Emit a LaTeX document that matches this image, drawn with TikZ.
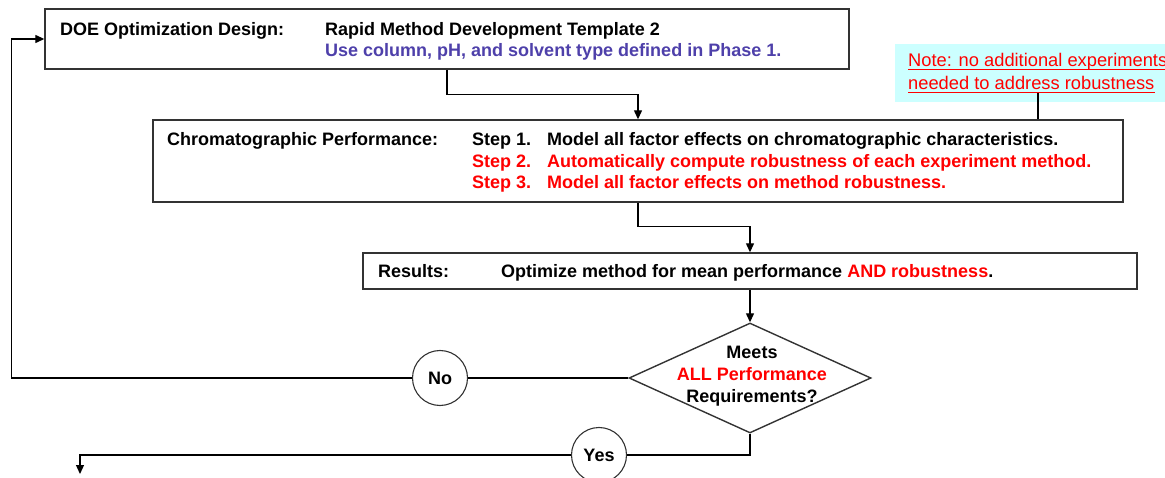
\documentclass[tikz,border=0pt]{standalone}
\usepackage{fontspec}
\setmainfont{Liberation Sans}
\usetikzlibrary{calc, positioning, shapes.geometric, arrows.meta}
\definecolor{doeblue}{RGB}{78,64,170}
\definecolor{notecyan}{RGB}{204,255,255}
\tikzset{
  font=\fontsize{18}{22}\selectfont\bfseries,
  % Set arrowhead
  >={Triangle[length=9pt, width=8pt]},
  % Process box
  box/.style={draw=black!80, line width=1.4pt, shape=rectangle, inner sep=0pt},
  % Decision diamond
  dbox/.style={box, shape=diamond, minimum width=242pt, minimum height=110pt},
  % Yes / no circle
  answer/.style={draw=black!80, line width=1.1pt, shape=circle, fill=white,
    minimum size=55pt, inner sep=0pt},
  % Text placed at its baseline
  txt/.style={anchor=base west, inner sep=0pt},
  % Note text
  notetxt/.style={txt, red, font=\fontsize{18.3}{22}\selectfont},
  % Connectors
  flow/.style={line width=1.3pt, ->},
  link/.style={line width=1.3pt},
}

\begin{document}
\begin{tikzpicture}[x=1pt, y=-1pt]
      \useasboundingbox (0,0) rectangle (1165,478);

      % boxes
      \node[box, minimum width=804pt, minimum height=60pt] (doe) at (447,39) {};
      \node[box, minimum width=970pt, minimum height=82pt] (chrom) at (638,161) {};
      \node[box, minimum width=774pt, minimum height=36pt] (res) at (750,271) {};
      \node[dbox] (dec) at (750,378) {};
      \node[fill=notecyan, minimum width=272pt, minimum height=58pt,
        inner sep=0pt] (noteb) at (1031,73) {};

      % texts
      \node[txt] (doet) at (60,36) {DOE Optimization Design:};
      \node[txt] (doea) at (325,36) {Rapid Method Development Template 2};
      \node[txt, doeblue] (doeb) at (325,57) {Use column, pH, and solvent type defined in Phase 1.};

      \node[txt] (chromt) at (167,146) {Chromatographic Performance:};
      \node[txt] (stepa) at (472,146) {Step 1.};
      \node[txt] (stepb) at (472,168) {\color{red}Step 2.};
      \node[txt] (stepc) at (472,189) {\color{red}Step 3.};
      \node[txt] (stepat) at (547,146) {Model all factor effects on chromatographic characteristics.};
      \node[txt, red] (stepbt) at (547,168) {Automatically compute robustness of each experiment method.};
      \node[txt, red] (stepct) at (547,189) {Model all factor effects on method robustness.};

      \node[txt] (rest) at (378,278) {Results:};
      \node[txt] (resa) at (501,278) {Optimize method for mean performance \textcolor{red}{AND robustness}.};

      \node[align=center, inner sep=0pt] (dect) at (752,376)
        {Meets\\\textcolor{red}{ALL Performance}\\Requirements?};

      \node[notetxt] (notea) at (908,67) {Note: no additional experiments};
      \node[notetxt] (noteb2) at (908,90) {needed to address robustness};
      \draw[red, line width=1pt] ($(notea.base west)+(0,3)$) -- ($(notea.base east)+(0,3)$);
      \draw[red, line width=1pt] ($(noteb2.base west)+(0,3)$) -- ($(noteb2.base east)+(0,3)$);
      \coordinate (notec) at (1038,93);

      % answers
      \node[answer] (no) at (440,378) {No};
      \node[answer] (yes) at (599,455) {Yes};
      \coordinate (out) at (80,474);

      % connectors
      \draw[flow] (doe.south) -- ++(0,25) -| (chrom.north);
      \draw[link] (notec) -- (notec |- chrom.north);
      \draw[flow] (chrom.south) -- ++(0,24) -| (res.north);
      \draw[flow] (res.south) -- (dec.north);
      \draw[link] (dec.west) -- (no.east);
      \draw[flow] (no.west) -| ($(doe.west)+(-33,0)$) -- (doe.west);
      \draw[link] (dec.south) |- (yes.east);
      \draw[flow] (yes.west) -| (out);
    \end{tikzpicture}
\end{document}
